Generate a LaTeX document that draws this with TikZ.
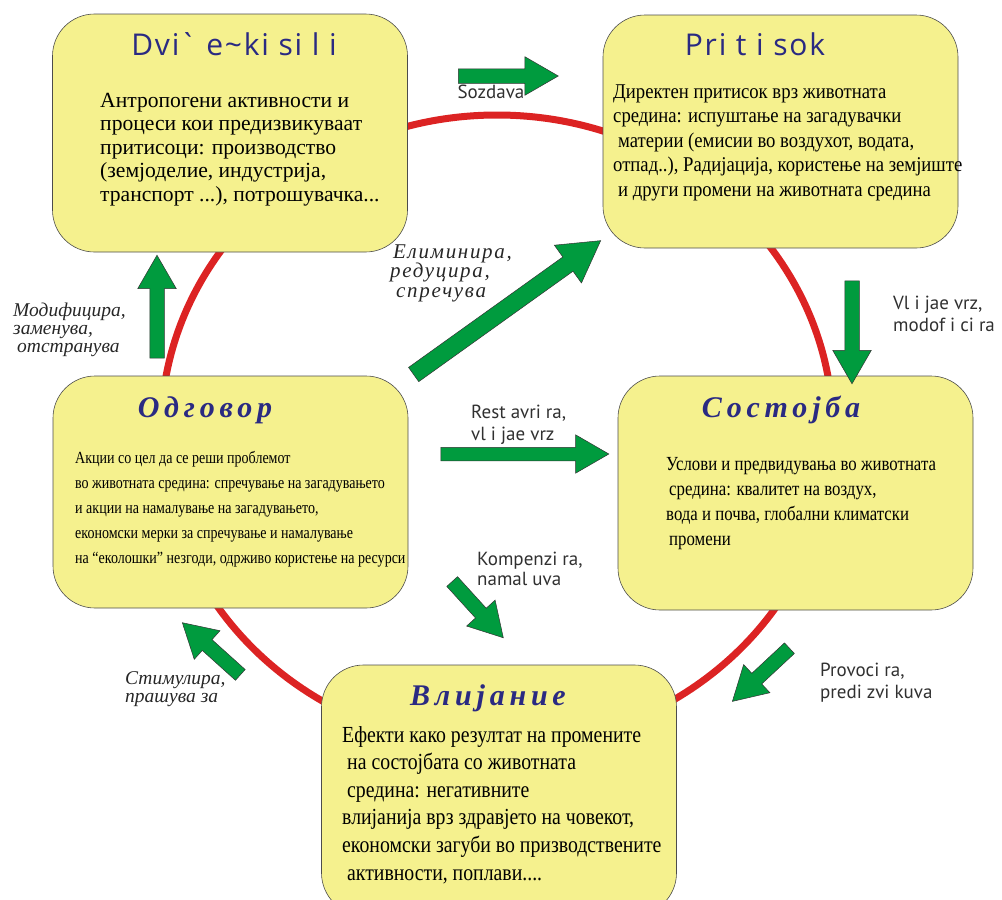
\documentclass[tikz,border=0pt]{standalone}
\usepackage{fontspec}
\setmainfont{Liberation Serif}
\newfontfamily\driversfont{Liberation Serif}
\newfontfamily\pressurefont[FakeStretch=0.89]{Liberation Serif}
\newfontfamily\responsefont[FakeStretch=0.825]{Liberation Serif}
\newfontfamily\statefont[FakeStretch=0.84]{Liberation Serif}
\newfontfamily\impactfont[FakeStretch=0.86]{Liberation Serif}
\newfontfamily\headserif[Script=Cyrillic,Language=Macedonian,LetterSpace=16]{Liberation Serif}
\newfontfamily\italicnote[Script=Cyrillic,Language=Macedonian]{Liberation Serif}
\newfontfamily\italicwide[Script=Cyrillic,Language=Macedonian,LetterSpace=8]{Liberation Serif}
\newfontfamily\headsans[LetterSpace=6]{Open Sans}
\newfontfamily\notesans{PT Sans}
\usepackage{tikz}
\usetikzlibrary{positioning,shapes.arrows}

\definecolor{boxyellow}{HTML}{F5F18E}
\definecolor{ringred}{HTML}{DC2323}
\definecolor{leafgreen}{HTML}{009B3E}
\definecolor{inkblue}{HTML}{2A2A82}
\definecolor{notegray}{HTML}{303030}

\begin{document}
\begin{tikzpicture}[
		x=1pt, y=-1pt,
		box/.style={
			draw=black!70,
			line width=0.6pt,
			fill=boxyellow,
			rounded corners=42pt,
			minimum width=355pt,
			inner sep=0pt
		},
		sanshead/.style={
			font=\headsans\fontsize{30}{30}\selectfont,
			text=inkblue, anchor=base, inner sep=0pt
		},
		serifhead/.style={
			font=\headserif\bfseries\itshape\fontsize{30}{30}\selectfont,
			text=inkblue, anchor=base, inner sep=0pt
		},
		% multi-line nodes: base = last line
		body/.style={align=left, anchor=base west, inner sep=0pt},
		note/.style={
			font=\notesans\fontsize{19}{21.5}\selectfont,
			text=notegray, align=left, anchor=base west, inner sep=0pt
		},
		itnote/.style={
			font=\italicnote\itshape\fontsize{19.5}{18}\selectfont,
			text=black!85, align=left, anchor=base west, inner sep=0pt
		},
		blockarrow/.style={
			single arrow, draw=black!80, line width=0.5pt, fill=leafgreen,
			inner xsep=0pt, inner ysep=7pt,
			single arrow head extend=12pt, single arrow tip angle=60
		},
		ring/.style={draw=ringred, line width=7pt}
		]
		\useasboundingbox (0,0) rectangle (1002,900);
		\clip (0,0) rectangle (1002,900);
		
		% Cycle behind the boxes
		\draw[ring] (497,431) ellipse [x radius=336pt, y radius=316pt];
		
		% Boxes
		\node[box, minimum height=238pt] (drivers) at (230,133) {};
		\node[box, minimum height=233pt] (pressure) at (780.5,131.5) {};
		\node[box, minimum height=232pt] (response) at (230.5,492) {};
		\node[box, minimum height=234pt] (state) at (795.5,493) {};
		\node[box, minimum height=250pt] (impact) at (499,790) {};
		
		% Titles
		\node[sanshead] (driverstitle) at (234,55) {Dvi\textasciigrave\ e\textasciitilde ki si l i};
		\node[sanshead] (pressuretitle) at (755,55) {Pri t i sok};
		\node[serifhead] (responsetitle) at (205,417) {Одговор};
		\node[serifhead] (statetitle) at (781,417) {Состојба};
		\node[serifhead] (impacttitle) at (488,705) {Влијание};
		
		% Box texts
		\node[body, font=\driversfont\fontsize{21.6}{23.5}\selectfont] (driverstext) at (100,201) {
			Антропогени активности и\\
			процеси кои предизвикуваат\\
			притисоци: производство\\
			(земјоделие, индустрија,\\
			транспорт ...), потрошувачка...
		};
		\node[body, font=\pressurefont\fontsize{21}{24.5}\selectfont] (pressuretext) at (613,196) {
			Директен притисок врз животната\\
			средина: испуштање на загадувачки\\
			\hspace*{5pt}материи (емисии во воздухот, водата,\\
			отпад..), Радијација, користење на земјиште\\
			\hspace*{5pt}и други промени на животната средина
		};
		\node[body, font=\responsefont\fontsize{17}{25}\selectfont] (responsetext) at (75,563) {
			Акции со цел да се реши проблемот\\
			во животната средина: спречување на загадувањето\\
			и акции на намалување на загадувањето,\\
			економски мерки за спречување и намалување\\
			на “еколошки” незгоди, одрживо користење на ресурси
		};
		\node[body, font=\statefont\fontsize{20}{25}\selectfont] (statetext) at (666,545) {
			Услови и предвидувања во животната\\
			\hspace*{3pt}средина: квалитет на воздух,\\
			вода и почва, глобални климатски\\
			\hspace*{3pt}промени
		};
		\node[body, font=\impactfont\fontsize{23}{27.6}\selectfont] (impacttext) at (342,880) {
			Ефекти како резултат на промените\\
			\hspace*{5pt}на состојбата со животната\\
			\hspace*{5pt}средина: негативните\\
			влијанија врз здравјето на човекот,\\
			економски загуби во призводствените\\
			\hspace*{5pt}активности, поплави....
		};
		
		% Block arrows
		\node[blockarrow, minimum height=100pt] (createarrow) at (502,76) {};
		\node[blockarrow, minimum height=103pt, rotate=90] (modifyarrow) at (157,313) {};
		\node[blockarrow, minimum height=230pt, rotate=35.6, inner ysep=8.5pt,
			single arrow head extend=14.5pt] (eliminatearrow) at (501,312) {};
		\node[blockarrow, minimum height=103pt, rotate=-90] (affectarrow) at (852,326) {};
		\node[blockarrow, minimum height=168pt, inner ysep=6.5pt,
			single arrow head extend=12.5pt] (restorearrow) at (519,454) {};
		\node[blockarrow, minimum height=76pt, rotate=-47.7] (compensarrow) at (473.5,605) {};
		\node[blockarrow, minimum height=78pt, rotate=138] (stimulatearrow) at (216,653) {};
		\node[blockarrow, minimum height=78pt, rotate=-137] (provokearrow) at (765.5,670.5) {};
		
		% Arrow labels
		\node[note, anchor=base] (createlabel) at (491,98) {Sozdava};
		\node[note] (affectlabel) at (893,331) {Vl i jae vrz,\\modof i ci ra};
		\node[note] (restorelabel) at (471,440) {Rest avri ra,\\vl i jae vrz};
		\node[note, font=\notesans\fontsize{19}{20}\selectfont] (compenslabel) at (477,585) {Kompenzi ra,\\namal uva};
		\node[note] (provokelabel) at (820,698) {Provoci ra,\\predi zvi kuva};
		\node[itnote] (modifylabel) at (13,352) {Модифицира,\\заменува,\\\hspace*{4pt}отстранува};
		\node[itnote, font=\italicwide\itshape\fontsize{21}{19.5}\selectfont] (eliminatelabel) at (390,297) {\hspace*{3pt}Елиминира,\\редуцира,\\\hspace*{6pt}спречува};
		\node[itnote] (stimulatelabel) at (125,702) {Стимулира,\\прашува за};
		
	\end{tikzpicture}
\end{document}
